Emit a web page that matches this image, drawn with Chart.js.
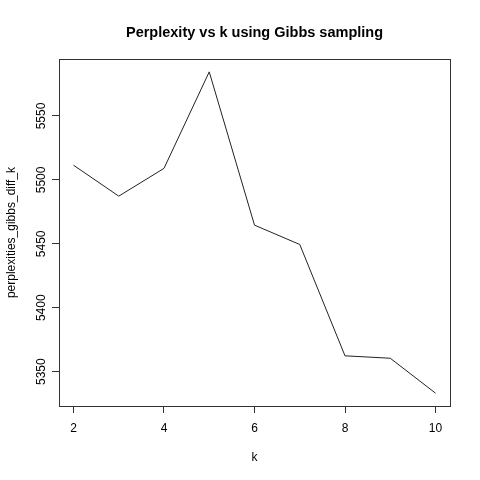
<!DOCTYPE html>
<html><head><meta charset="utf-8">
<script src="https://cdn.jsdelivr.net/npm/chart.js@4"></script>
<style>html,body{margin:0;padding:0;background:#fff}#c{width:480px;height:480px;display:block}</style>
</head><body>
<div id="c"><canvas id="cv" width="480" height="480"></canvas></div>
<script>
const kValues = [2, 3, 4, 5, 6, 7, 8, 9, 10];
const perplexities = [5511.5, 5487.3, 5509, 5584.5, 5464.6, 5449.5, 5362.4, 5360.5, 5333.2];
const xTicks = [2, 4, 6, 8, 10];
const yTicks = [5350, 5400, 5450, 5500, 5550];
const titleText = 'Perplexity vs k using Gibbs sampling';
const xLabel = 'k';
const yLabel = 'perplexities_gibbs_diff_k';

const FONT = 'Liberation Sans, Arial, Helvetica, sans-serif';
// R-style 4% axis extension
const xr = Math.max(...kValues) - Math.min(...kValues);
const yr = Math.max(...perplexities) - Math.min(...perplexities);
const xMin = Math.min(...kValues) - 0.04 * xr, xMax = Math.max(...kValues) + 0.04 * xr;
const yMin = Math.min(...perplexities) - 0.04 * yr, yMax = Math.max(...perplexities) + 0.04 * yr;

const boxPlugin = {
  id: 'box',
  afterDraw(chart) {
    const {ctx, chartArea: a} = chart;
    ctx.save();
    ctx.strokeStyle = '#333';
    ctx.lineWidth = 1;
    ctx.strokeRect(Math.round(a.left) + 0.5, Math.round(a.top) + 0.5, Math.round(a.right - a.left), Math.round(a.bottom - a.top));
    ctx.fillStyle = '#000';
    ctx.font = 'bold 14.5px ' + FONT;
    ctx.textAlign = 'center';
    ctx.textBaseline = 'middle';
    ctx.fillText(titleText, (a.left + a.right) / 2, a.top - 26);
    ctx.restore();
  }
};

new Chart(document.getElementById('cv'), {
  type: 'line',
  data: {
    datasets: [{
      data: kValues.map((k, i) => ({x: k, y: perplexities[i]})),
      borderColor: '#222',
      borderWidth: 1,
      pointRadius: 0,
      tension: 0,
      fill: false
    }]
  },
  options: {
    responsive: false,
    animation: false,
    devicePixelRatio: 1,
    layout: {padding: {top: 59, right: 30, left: 0, bottom: 0}},
    plugins: {legend: {display: false}, tooltip: {enabled: false}, title: {display: false}},
    scales: {
      x: {
        type: 'linear', min: xMin, max: xMax,
        afterBuildTicks: s => { s.ticks = xTicks.map(v => ({value: v})); },
        afterFit: s => { s.height = 74; },
        grid: {display: true, drawOnChartArea: false, drawTicks: true, tickLength: 7, color: '#333'},
        border: {display: true, color: '#333'},
        ticks: {color: '#000', font: {family: FONT, size: 12}, padding: 8, maxRotation: 0, minRotation: 0},
        title: {display: true, text: xLabel, color: '#000', font: {family: FONT, size: 12}, padding: {top: 4, bottom: 15}}
      },
      y: {
        type: 'linear', min: yMin, max: yMax,
        afterBuildTicks: s => { s.ticks = yTicks.map(v => ({value: v})); },
        afterFit: s => { s.width = 59; },
        grid: {display: true, drawOnChartArea: false, drawTicks: true, tickLength: 7, color: '#333'},
        border: {display: true, color: '#333'},
        ticks: {color: '#000', font: {family: FONT, size: 12}, padding: -3, crossAlign: 'center', minRotation: 90, maxRotation: 90, callback: v => String(v)},
        title: {display: true, text: yLabel, color: '#000', font: {family: FONT, size: 12}, padding: {bottom: 0}}
      }
    }
  },
  plugins: [boxPlugin]
});
</script>
</body></html>
